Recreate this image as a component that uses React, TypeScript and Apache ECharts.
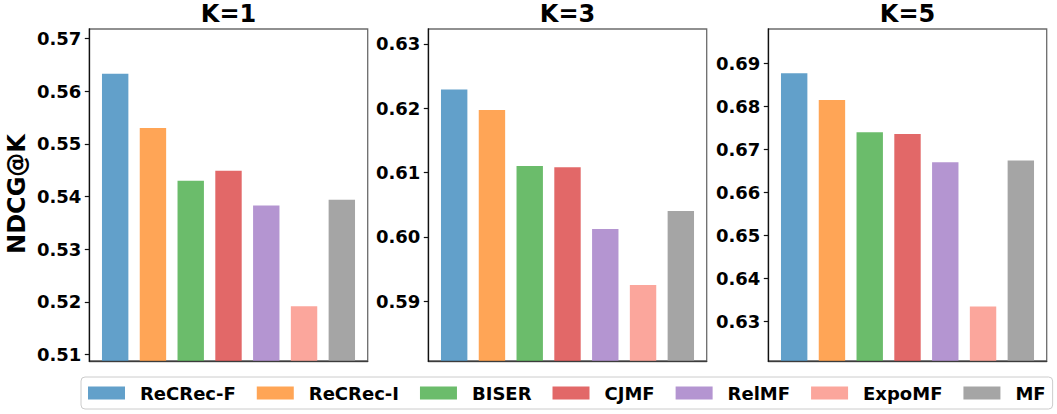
import React, { useEffect, useRef } from "react";
import * as echarts from "echarts";

const categories = ["ReCRec-F", "ReCRec-I", "BISER", "CJMF", "RelMF", "ExpoMF", "MF"];
const panelTitles = ["K=1", "K=3", "K=5"];
const k1Values = [0.5633, 0.553, 0.543, 0.5449, 0.5383, 0.5192, 0.5394];
const k3Values = [0.6229, 0.6197, 0.611, 0.6108, 0.6012, 0.5925, 0.604];
const k5Values = [0.6877, 0.6815, 0.674, 0.6736, 0.667, 0.6335, 0.6674];
const k1Ticks = [0.51, 0.52, 0.53, 0.54, 0.55, 0.56, 0.57];
const k3Ticks = [0.59, 0.6, 0.61, 0.62, 0.63];
const k5Ticks = [0.63, 0.64, 0.65, 0.66, 0.67, 0.68, 0.69];
const k1Range = [0.5088, 0.5718];
const k3Range = [0.5807, 0.6323];
const k5Range = [0.6208, 0.698];
const yAxisName = "NDCG@K";

const colors = ["#62A0CA", "#FFA556", "#6BBC6B", "#E26868", "#B495D1", "#FBA69C", "#A5A5A5"];

const FONT = "DejaVu Sans";

export default function App() {
  const ref = useRef<HTMLDivElement>(null);
  useEffect(() => {
    if (!ref.current) return;
    const chart = echarts.init(ref.current, undefined, { renderer: "svg" });
    const panels = [
      { values: k1Values, ticks: k1Ticks, range: k1Range },
      { values: k3Values, ticks: k3Ticks, range: k3Range },
      { values: k5Values, ticks: k5Ticks, range: k5Range },
    ];
    const gridLefts = [89.3, 428.3, 768.3];
    const gridWidth = 278.4;
    const gridTop = 29;
    const gridHeight = 332;
    const spineGray = "rgba(0,0,0,0.58)";

    const grid = gridLefts.map((l) => ({
      left: l,
      top: gridTop,
      width: gridWidth,
      height: gridHeight,
      show: true,
      borderColor: spineGray,
      borderWidth: 1.3,
      backgroundColor: "transparent",
    }));
    const xAxis = panels.map((_, p) => ({
      type: "value",
      gridIndex: p,
      min: -0.685,
      max: 6.685,
      z: 5,
      axisLine: { show: true, onZero: false, lineStyle: { color: spineGray, width: 1.3 } },
      axisTick: { show: false },
      axisLabel: { show: false },
      splitLine: { show: false },
    }));
    const yAxis = panels.map((pn, p) => ({
      type: "value",
      gridIndex: p,
      min: pn.range[0],
      max: pn.range[1],
      z: 5,
      axisLine: { show: true, onZero: false, lineStyle: { color: "#111", width: 1.3 } },
      axisTick: {
        show: true,
        length: 4.5,
        inside: false,
        customValues: pn.ticks,
        lineStyle: { color: "#111", width: 1.2 },
      },
      axisLabel: {
        show: true,
        customValues: pn.ticks,
        margin: 8,
        fontFamily: FONT,
        fontWeight: "bold",
        fontSize: 18,
        color: "#000",
        formatter: (v: number) => v.toFixed(2),
      },
      splitLine: { show: false },
    }));
    const series: any[] = [];
    panels.forEach((pn, p) => {
      categories.forEach((c, i) => {
        series.push({
          type: "bar",
          name: c,
          xAxisIndex: p,
          yAxisIndex: p,
          barWidth: 26.4,
          barGap: "-100%",
          itemStyle: { color: colors[i] },
          data: [[i, pn.values[i]]],
        });
      });
    });
    const textStyleCommon = {
      fontFamily: FONT,
      fontWeight: "bold",
      fill: "#000",
      align: "center",
      verticalAlign: "middle",
      textAlign: "center",
      textVerticalAlign: "middle",
    };
    const graphic: any[] = panelTitles.map((t, p) => ({
      type: "text",
      x: gridLefts[p] + gridWidth / 2,
      y: 14,
      style: { ...textStyleCommon, text: t, fontSize: 24 },
    }));
    graphic.push({
      type: "text",
      x: 17,
      y: 194,
      rotation: Math.PI / 2,
      style: { ...textStyleCommon, text: yAxisName, fontSize: 24 },
    });

    chart.setOption({
      animation: false,
      grid,
      xAxis,
      yAxis,
      series,
      graphic,
      legend: {
        data: categories,
        left: 81,
        top: 377,
        orient: "horizontal",
        icon: "rect",
        itemWidth: 37,
        itemHeight: 13,
        itemGap: 21,
        padding: [5, 7, 5, 7],
        borderColor: "#CCCCCC",
        borderWidth: 1,
        borderRadius: 4,
        selectedMode: false,
        textStyle: {
          fontFamily: FONT,
          fontWeight: "bold",
          fontSize: 18,
          color: "#000",
          lineHeight: 22,
          padding: [0, 0, 0, 10],
        },
      },
    });
    return () => chart.dispose();
  }, []);
  return (
    <div
      ref={ref}
      style={{ position: "absolute", left: 0, top: 0, width: 1057, height: 414, background: "#fff" }}
    />
  );
}
